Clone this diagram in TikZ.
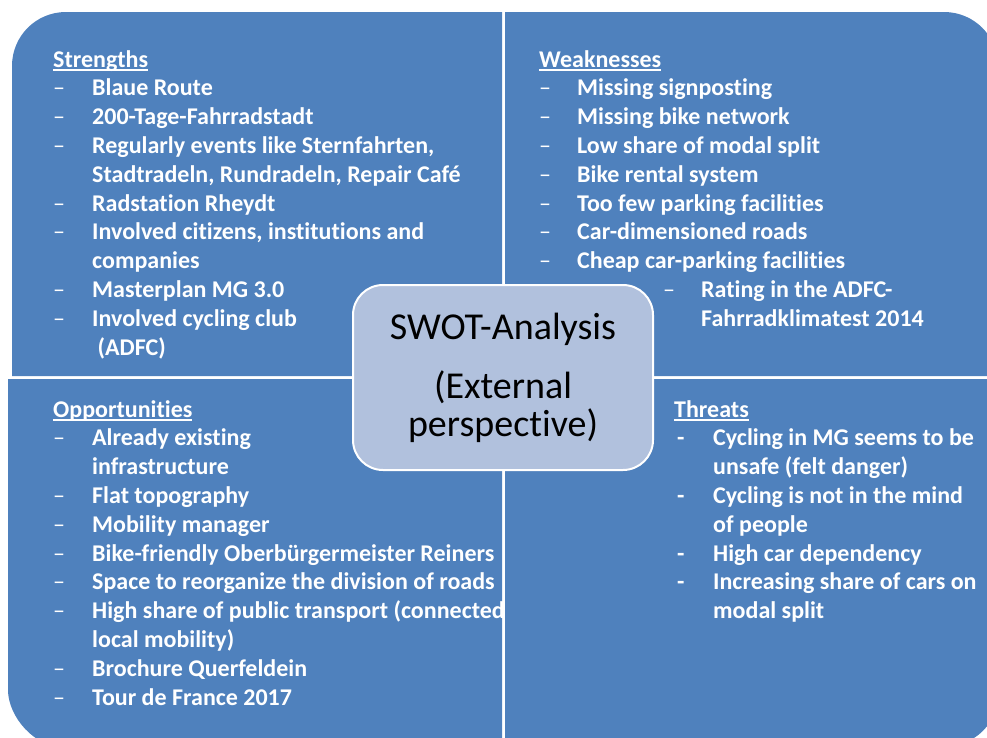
\documentclass[tikz,border=0pt]{standalone}
\usepackage{fontspec}
\setmainfont{Carlito}[RawFeature={-liga;-clig;-dlig;-calt}]
\usepackage{array}
\definecolor{swotblue}{RGB}{79,129,189}
\definecolor{swotlight}{RGB}{177,193,221}
\newcommand\swotul[1]{\setbox0\hbox{#1}\rlap{\rule[-3.6pt]{\wd0}{1.5pt}}\box0}
\newcommand\dashitem{\textmd{–}}
\newcommand\tk{\kern0pt}
\begin{document}
\begin{tikzpicture}[x=1pt,y=-1pt,
  panel/.style={fill=swotblue},
  listtext/.style={anchor=base west, inner sep=0pt, text=white, font=\fontsize{24}{28.8}\selectfont\bfseries},
  centerbox/.style={draw=white, line width=2pt, fill=swotlight, rounded corners=30pt, minimum width=300pt, minimum height=185pt, align=center, inner sep=0pt, font=\fontsize{38}{38}\selectfont}]
\useasboundingbox (0,0) rectangle (987,737);
\clip (0,0) rectangle (987,737);
% panels
\fill[panel] (12,376) -- (12,66) .. controls (12,36) and (36,12) .. (66,12) -- (502,12) -- (502,376) -- cycle;
\fill[panel] (505,12) -- (944,12) .. controls (974,12) and (998,36) .. (998,66) -- (998,376) -- (505,376) -- cycle;
\fill[panel] (8,379) -- (502,379) -- (502,748) -- (66,748) .. controls (34,748) and (8,716) .. (8,690) -- cycle;
\fill[panel] (505,379) -- (998,379) -- (998,694) .. controls (998,723) and (975,746) .. (946,746) -- (505,746) -- cycle;
% Strengths
\node[listtext] (S) at (53,67) {\begin{tabular}[t]{@{}p{39pt}@{}l@{}}
\multicolumn{2}{@{}l@{}}{\swotul{Strengths}}\\
\dashitem & Blaue Route\\
\dashitem & 200-Tage-Fahrradstadt\\
\dashitem & Regularly events like Sternfahrten,\\
 & Stadtradeln, Rundradeln, Repair Café\\
\dashitem & Radstation Rheydt\\
\dashitem & Involved cit\tk izens, inst\tk itut\tk ions and\\
 & companies\\
\dashitem & Masterplan MG 3.0\\
\dashitem & Involved cycling club\\
 & \ (ADFC)
\end{tabular}};
% Weaknesses
\node[listtext] (W) at (539,67) {\begin{tabular}[t]{@{}p{38pt}@{}l@{}}
\multicolumn{2}{@{}l@{}}{\swotul{Weaknesses}}\\
\dashitem & Missing signpost\tk ing\\
\dashitem & Missing bike network\\
\dashitem & Low share of modal split\\
\dashitem & Bike rental system\\
\dashitem & Too few parking facilit\tk ies\\
\dashitem & Car-dimensioned roads\\
\dashitem & Cheap car-parking facilit\tk ies\\
\multicolumn{2}{@{}l@{}}{\hspace{124pt}\makebox[38pt][l]{\dashitem}Rating in the ADFC-}\\
\multicolumn{2}{@{}l@{}}{\hspace{162pt}Fahrradklimatest 2014}
\end{tabular}};
% Opportunities
\begin{scope}
\clip (8,379) rectangle (502,737);
\node[listtext] (O) at (53,417) {\begin{tabular}[t]{@{}p{39pt}@{}l@{}}
\multicolumn{2}{@{}l@{}}{\swotul{Opportunit\tk ies}}\\
\dashitem & Already existing\\
 & infrastructure\\
\dashitem & Flat topography\\
\dashitem & Mobility manager\\
\dashitem & Bike-friendly Oberbürgermeister Reiners\\
\dashitem & Space to reorganize the division of roads\\
\dashitem & High share of public transport (connected\\
 & local mobility)\\
\dashitem & Brochure Querfeldein\\
\dashitem & Tour de France 2017
\end{tabular}};
\end{scope}
% Threats
\node[listtext] (T) at (674,417) {\begin{tabular}[t]{@{}p{39pt}@{}l@{}}
\multicolumn{2}{@{}l@{}}{\swotul{Threats}}\\
\hspace{3pt}- & Cycling in MG seems to be\\
 & unsafe (felt danger)\\
\hspace{3pt}- & Cycling is not in the mind\\
 & of people\\
\hspace{3pt}- & High car dependency\\
\hspace{3pt}- & Increasing share of cars on\\
 & modal split
\end{tabular}};
% centre
\node[centerbox] (C) at (503,377.5) {SWOT-Analysis\\[21pt](External\\perspective)};
\end{tikzpicture}
\end{document}
